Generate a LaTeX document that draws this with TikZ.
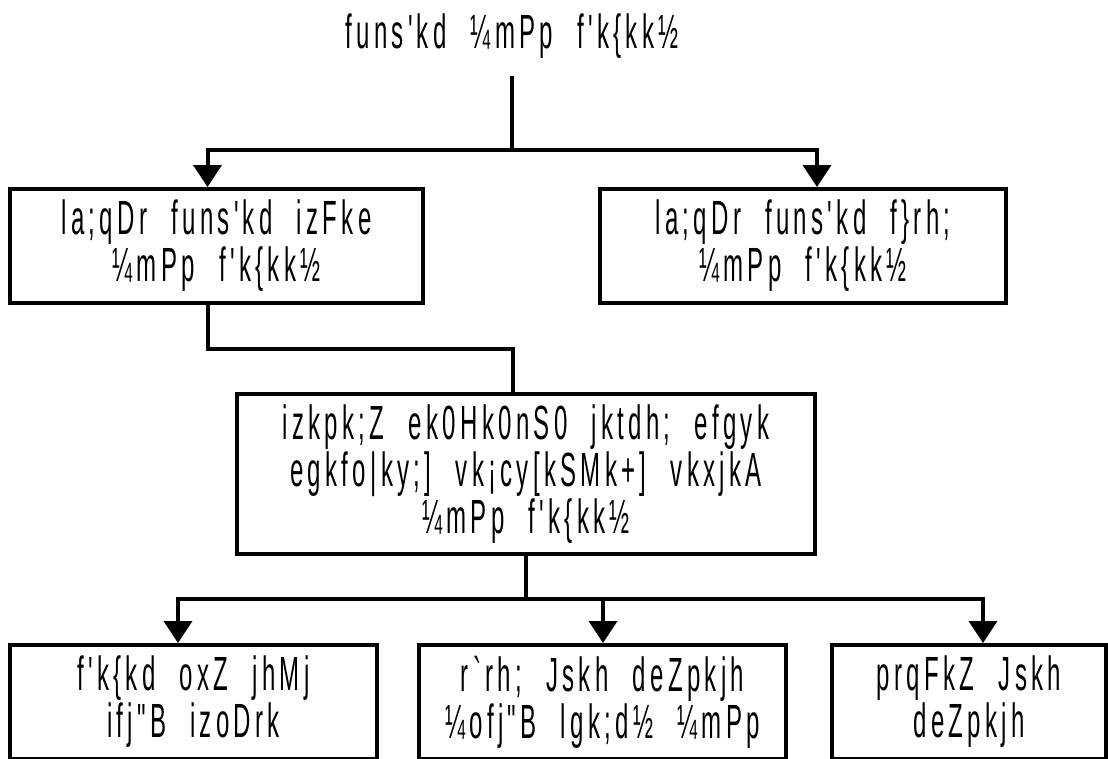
\documentclass[tikz,border=0pt]{standalone}
\usepackage{fontspec}
\newfontfamily\kdfont[FakeStretch=0.5,LetterSpace=9,WordSpace=2.2,Ligatures=TeXOff]{Liberation Sans}
\usetikzlibrary{arrows.meta}
\tikzset{
  kdtext/.style={inner sep=0pt, align=center, font=\kdfont\fontsize{48}{47}\selectfont},
  box/.style={kdtext, draw, line width=4pt, minimum height=114pt},
  link/.style={line width=4pt},
  arrow/.style={link, -{Triangle[width=28pt,length=22pt]}}
}
\begin{document}
\begin{tikzpicture}[x=1pt,y=-1pt]
    \useasboundingbox (0,0) rectangle (1108,758);

    \node[kdtext, anchor=base] (title) at (512,48) {funs'kd ¼mPp f'k\{kk½};
    \node[box, minimum width=413pt] (topL) at (216.5,246) {la;qDr funs'kd izFke\\¼mPp f'k\{kk½};
    \node[box, minimum width=406pt] (topR) at (803,246) {la;qDr funs'kd f\}rh;\\¼mPp f'k\{kk½};
    \node[box, minimum width=578pt, minimum height=160pt] (mid) at (526,474)
        {izkpk;Z ek0Hk0nS0 jktdh; efgyk\\egkfo|ky;] vk¡cy[kSMk+] vkxjkA\\¼mPp f'k\{kk½};
    \node[box, minimum width=367pt] (botL) at (193.5,702) {f'k\{kd oxZ jhMj\\ifj"B izoDrk};
    \node[box, minimum width=367pt] (botM) at (602.5,702) {r`rh; Jskh deZpkjh\\¼ofj"B lgk;d½ ¼mPp};
    \node[box, minimum width=274pt] (botR) at (969,702) {prqFkZ Jskh\\deZpkjh};

    \coordinate (splitTop) at (512,150);
    \coordinate (splitBot) at (526,599);
    \draw[link] ([yshift=-18pt]title.south) -- (splitTop);
    \draw[arrow] (splitTop) -| ([xshift=-9pt]topL.north);
    \draw[arrow] (splitTop) -| ([xshift=14pt]topR.north);
    \draw[link] ([xshift=-9pt]topL.south) -- ++(0,44) -| ([xshift=-13pt]mid.north);
    \draw[link] (mid.south) -- (splitBot);
    \foreach \b/\dx in {botL/-15.5,botM/0.5,botR/14}
        {\draw[arrow] (splitBot) -| ([xshift=\dx pt]\b.north);}
\end{tikzpicture}
\end{document}
